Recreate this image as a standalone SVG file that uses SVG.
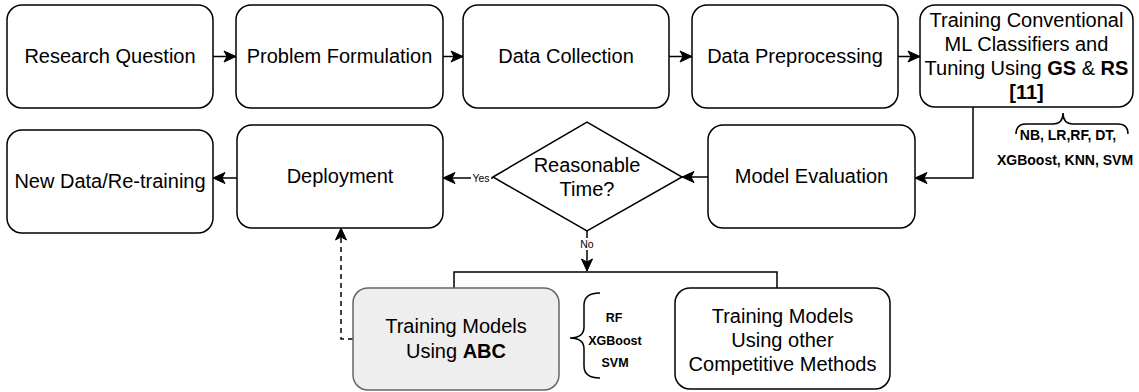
<svg xmlns="http://www.w3.org/2000/svg" width="1139" height="392" viewBox="0 0 1139 392">
<style>
  .box{fill:#fff;stroke:#000;stroke-width:1.5}
  .gbox{fill:#eeeeee;stroke:#666;stroke-width:1.5}
  .t{font-family:"Liberation Sans",Arial,Helvetica,sans-serif;font-size:20px;fill:#000;text-anchor:middle}
  .s{font-family:"Liberation Sans",Arial,Helvetica,sans-serif;font-size:12.5px;font-weight:bold;fill:#000;text-anchor:middle}
  .s2{font-family:"Liberation Sans",Arial,Helvetica,sans-serif;font-size:14px;font-weight:bold;fill:#000;text-anchor:middle}
  .lbl{font-family:"Liberation Sans",Arial,Helvetica,sans-serif;font-size:10.5px;fill:#000;text-anchor:middle}
  .c{fill:none;stroke:#000;stroke-width:1.5}
  .d{fill:none;stroke:#000;stroke-width:1.5;stroke-dasharray:5 4}
  .b{font-weight:bold}
</style>
<defs>
  <marker id="arr" markerUnits="userSpaceOnUse" markerWidth="14" markerHeight="14" viewBox="0 0 14 14" refX="13" refY="7" orient="auto">
    <path d="M1,1.5 L13,7 L1,12.5 L4,7 Z" fill="#000" stroke="#000" stroke-width="1"/>
  </marker>
</defs>

<g id="connectors">
  <line class="c" x1="213" y1="56.5" x2="236" y2="56.5" marker-end="url(#arr)"/>
  <line class="c" x1="443" y1="56.5" x2="463" y2="56.5" marker-end="url(#arr)"/>
  <line class="c" x1="669" y1="56.5" x2="692" y2="56.5" marker-end="url(#arr)"/>
  <line class="c" x1="898" y1="56.5" x2="920" y2="56.5" marker-end="url(#arr)"/>
  <polyline class="c" points="973,107 973,178 915,178" marker-end="url(#arr)"/>
  <line class="c" x1="708" y1="177" x2="682" y2="177" marker-end="url(#arr)"/>
  <line class="c" x1="493" y1="178" x2="443" y2="178" marker-end="url(#arr)"/>
  <rect x="471" y="172" width="20" height="12" fill="#fff"/>
  <text class="lbl" x="481" y="182">Yes</text>
  <line class="c" x1="237" y1="178" x2="213" y2="178" marker-end="url(#arr)"/>
  <line class="c" x1="587" y1="231" x2="587" y2="271" marker-end="url(#arr)"/>
  <rect x="578" y="238" width="18" height="12" fill="#fff"/>
  <text class="lbl" x="587" y="248">No</text>
  <polyline class="c" points="454,288 454,272 777,272 777,288"/>
  <polyline class="d" points="353,339 341,339 341,228" marker-end="url(#arr)"/>
</g>

<g id="research-question">
  <rect class="box" x="7" y="5" width="206" height="103" rx="15"/>
  <text class="t" x="110" y="63">Research Question</text>
</g>
<g id="problem-formulation">
  <rect class="box" x="236" y="5" width="207" height="103" rx="15"/>
  <text class="t" x="339.5" y="63">Problem Formulation</text>
</g>
<g id="data-collection">
  <rect class="box" x="463" y="5" width="206" height="103" rx="15"/>
  <text class="t" x="566" y="63">Data Collection</text>
</g>
<g id="data-preprocessing">
  <rect class="box" x="692" y="5" width="206" height="103" rx="15"/>
  <text class="t" x="795" y="63">Data Preprocessing</text>
</g>
<g id="training-conventional">
  <rect class="box" x="920" y="5" width="213" height="102" rx="15"/>
  <text class="t" x="1026.5" y="27">Training Conventional</text>
  <text class="t" x="1026.5" y="51">ML Classifiers and</text>
  <text class="t" x="1026.5" y="75">Tuning Using <tspan class="b">GS</tspan> &amp; <tspan class="b">RS</tspan></text>
  <text class="t b" x="1026.5" y="99">[11]</text>
</g>
<g id="conventional-classifiers">
  <path class="c" d="M1016,134 Q1016,124 1026,124 L1053,124 Q1063,124 1063,113 Q1063,124 1073,124 L1118,124 Q1128,124 1128,134"/>
  <text class="s2" x="1068" y="140">NB, LR,RF, DT,</text>
  <text class="s2" x="1065" y="165">XGBoost, KNN, SVM</text>
</g>
<g id="model-evaluation">
  <rect class="box" x="708" y="125" width="207" height="103" rx="15"/>
  <text class="t" x="811.5" y="183">Model Evaluation</text>
</g>
<g id="reasonable-time">
  <polygon class="box" points="493,177 587,122 682,177 587,231"/>
  <text class="t" x="587" y="172">Reasonable</text>
  <text class="t" x="587" y="196">Time?</text>
</g>
<g id="deployment">
  <rect class="box" x="237" y="125" width="206" height="103" rx="15"/>
  <text class="t" x="340" y="183">Deployment</text>
</g>
<g id="new-data">
  <rect class="box" x="7" y="130" width="206" height="103" rx="15"/>
  <text class="t" x="110" y="188">New Data/Re-training</text>
</g>
<g id="training-abc">
  <rect class="gbox" x="353" y="288" width="206" height="102" rx="15"/>
  <text class="t" x="456" y="333">Training Models</text>
  <text class="t" x="456" y="358">Using <tspan class="b">ABC</tspan></text>
</g>
<g id="abc-classifiers">
  <path class="c" d="M600,293 Q584,293 584,305 L584,327 Q584,338 570,338 Q584,338 584,349 L584,366 Q584,378 600,378"/>
  <text class="s" x="614" y="322">RF</text>
  <text class="s" x="615" y="345">XGBoost</text>
  <text class="s" x="615" y="367">SVM</text>
</g>
<g id="training-other">
  <rect class="box" x="675" y="288" width="215" height="101" rx="15"/>
  <text class="t" x="782.5" y="323">Training Models</text>
  <text class="t" x="782.5" y="347">Using other</text>
  <text class="t" x="782.5" y="371">Competitive Methods</text>
</g>
</svg>
